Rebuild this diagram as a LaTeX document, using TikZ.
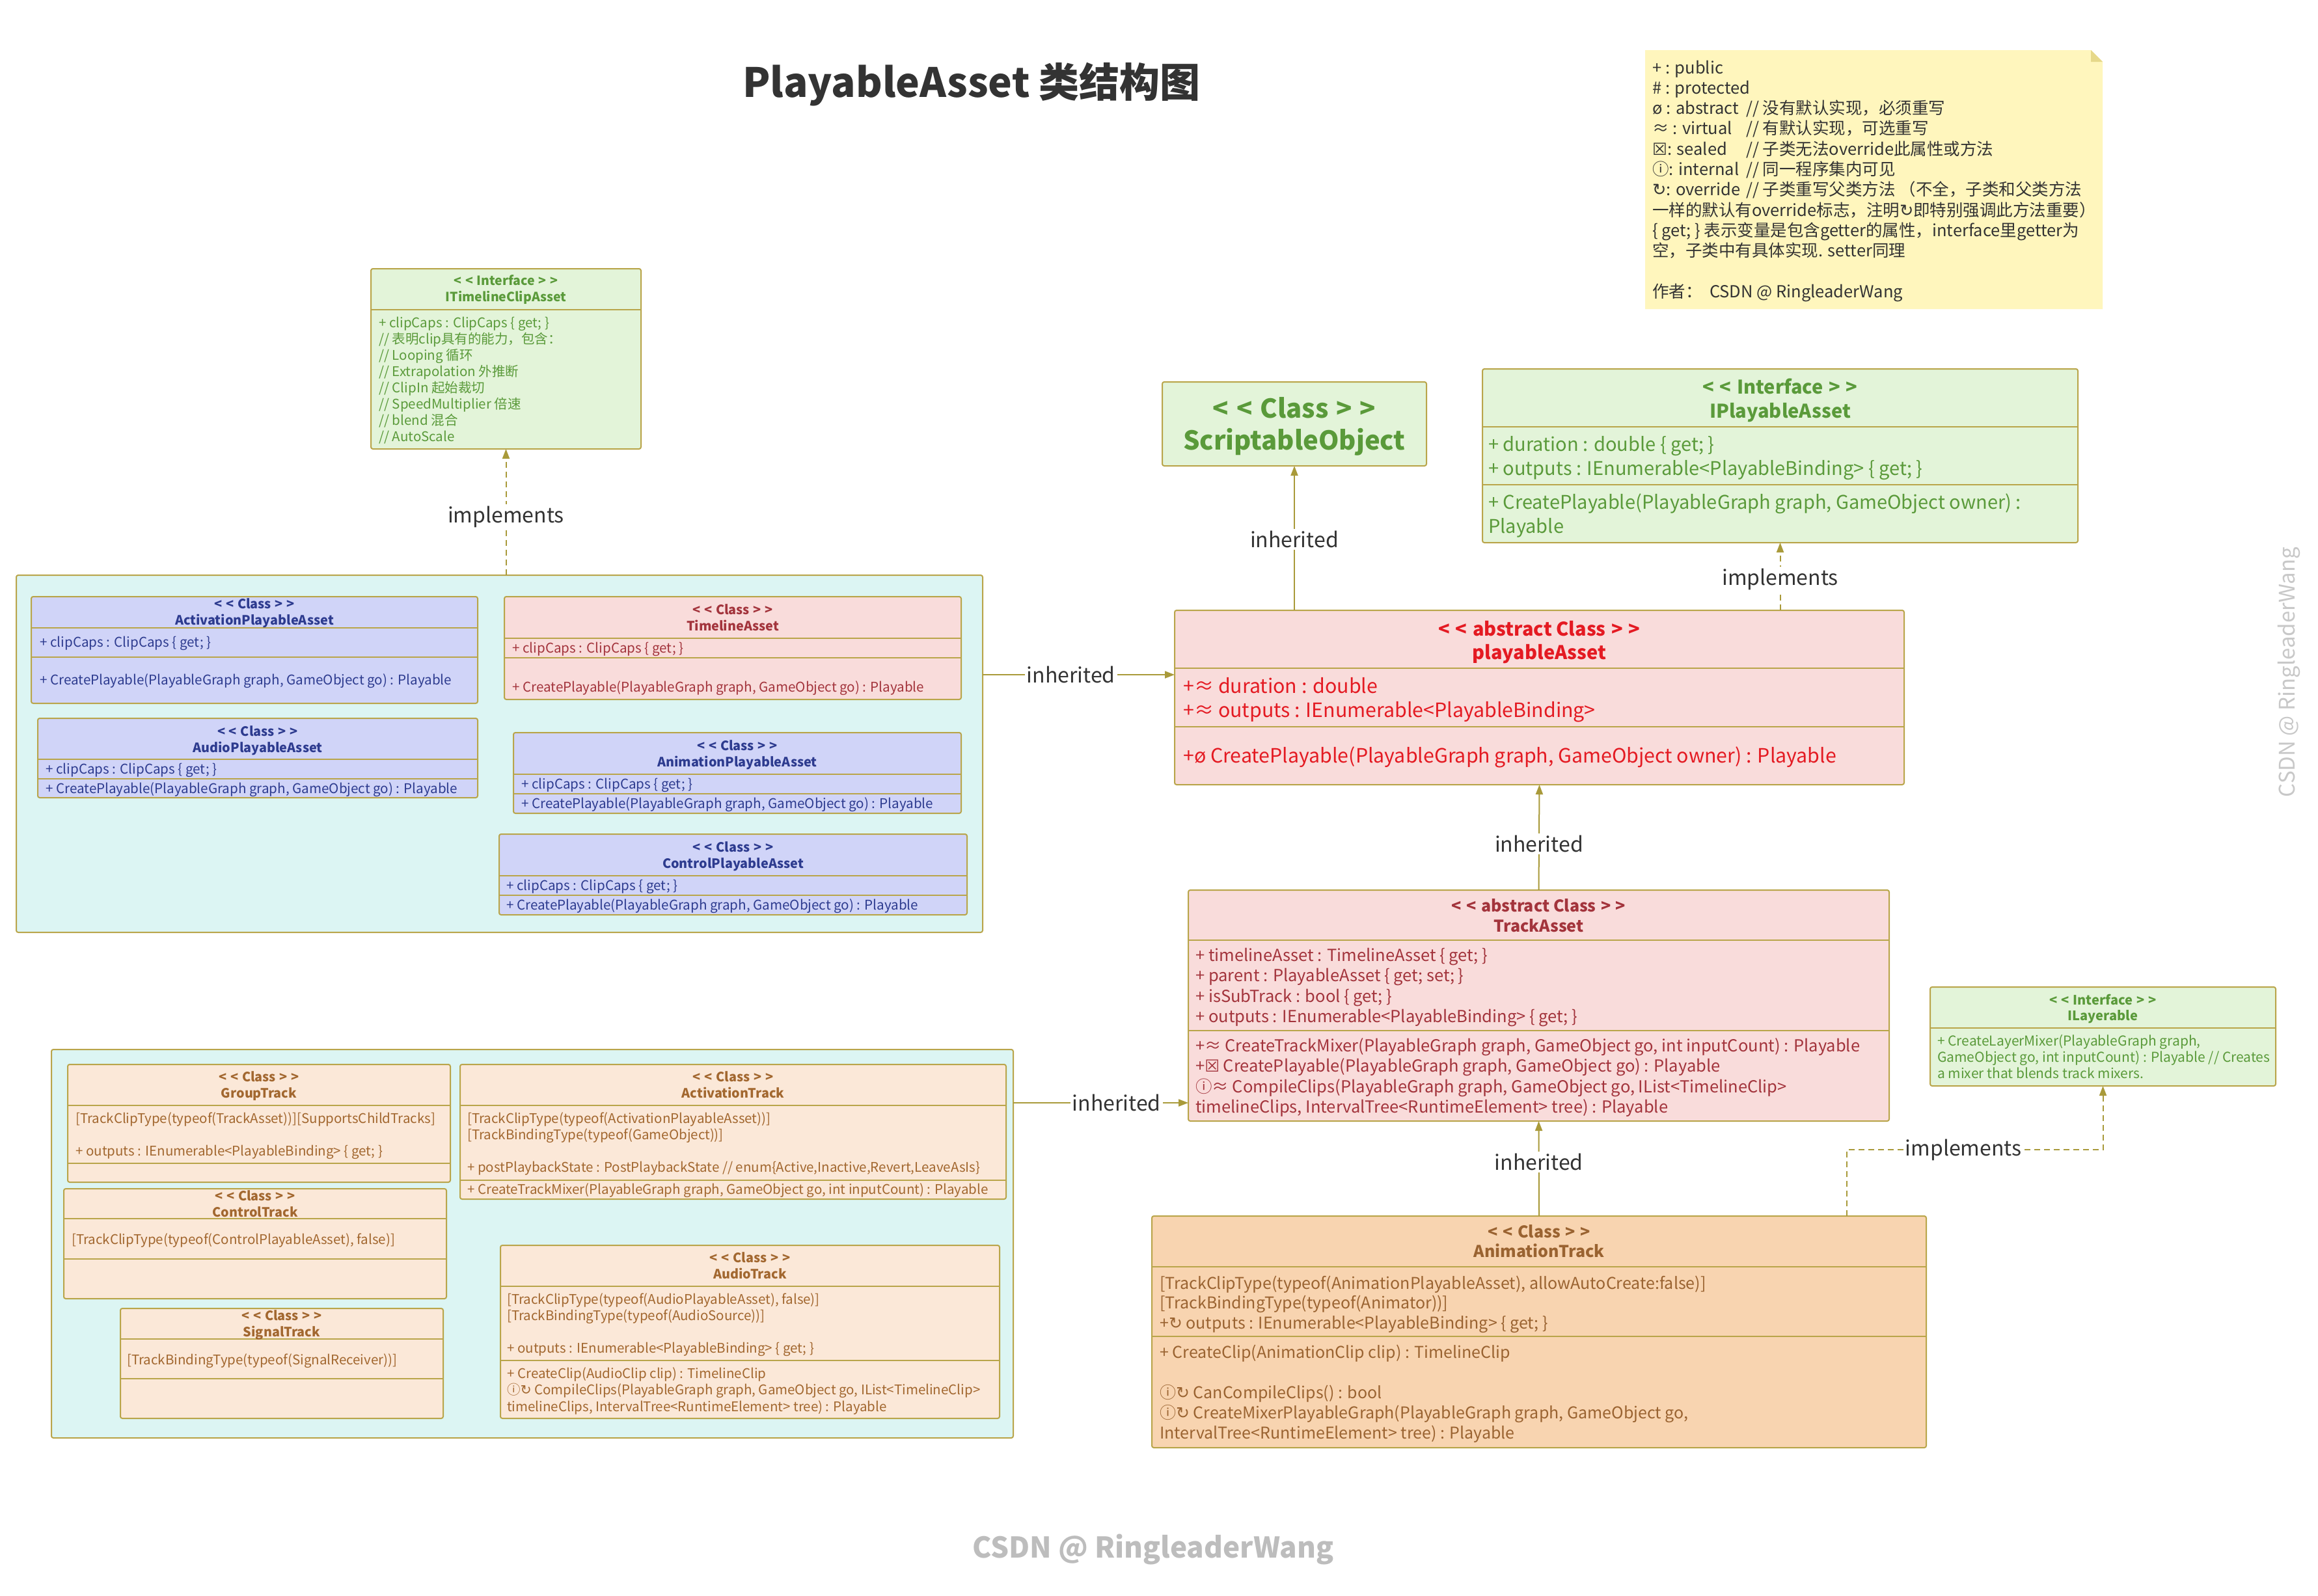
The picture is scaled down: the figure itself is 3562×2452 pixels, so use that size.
\documentclass[tikz,border=0pt]{standalone}
\usepackage{fontspec}
\setmainfont{Noto Sans CJK SC}
\newfontfamily\symf{DejaVu Sans}
\newfontfamily\cjkf{Noto Sans CJK SC}
\usetikzlibrary{arrows.meta}
\definecolor{olv}{HTML}{B9A54A}
\definecolor{arr}{HTML}{A99A3A}
\definecolor{dk}{HTML}{333333}
\definecolor{gfill}{HTML}{E3F4D9}
\definecolor{gtx}{HTML}{5A9A3A}
\definecolor{bfill}{HTML}{D0D4F8}
\definecolor{btx}{HTML}{2D3B8F}
\definecolor{pfill}{HTML}{F9DCDB}
\definecolor{ptx}{HTML}{A3343C}
\definecolor{rtx}{HTML}{E41A22}
\definecolor{ofill}{HTML}{FBE8D8}
\definecolor{otx}{HTML}{A2672F}
\definecolor{afill}{HTML}{F8D4B0}
\definecolor{atx}{HTML}{9A6331}
\definecolor{cfill}{HTML}{DCF5F3}
\definecolor{yfill}{HTML}{FFF6BD}
\definecolor{yfold}{HTML}{E6D88A}
\definecolor{wma}{HTML}{BDBDBD}
\definecolor{wmb}{HTML}{C8C8C8}
\newcommand\fs[2]{\fontsize{#1}{#2}\selectfont}
\newcommand\ml[1]{\vtop{\halign{##\hfil\cr#1\crcr}}}
\newcommand\mlc[1]{\vtop{\halign{\hfil##\hfil\cr#1\crcr}}}
\newcommand\symov{{\symf ↻}}
\newcommand\symse{{\symf ☒}}
\newcommand\symin{{\cjkf ⓘ}}
\newcommand\stereoL{<\hspace{.3em}<\hspace{.3em}}
\newcommand\stereoR{\hspace{.3em}>\hspace{.3em}>}
\newcommand\ubox[6]{\node[ubox,fill=#2,minimum width={#5-#3},minimum height={#6-#4}] (#1) at ({(#3+#5)/2},{(#4+#6)/2}) {};}
\newcommand\usep[2]{\draw[sepl] (#1.west |- 0,#2) -- (#1.east |- 0,#2);}
\begin{document}
\begin{tikzpicture}[x=1pt,y=-1pt,
  ubox/.style={draw=olv,line width=2pt,rounded corners=3pt,inner sep=0pt,outer sep=0pt},
  sepl/.style={draw=olv,line width=2pt},
  txt/.style={anchor=base west,inner sep=0pt},
  hdr/.style={anchor=base,inner sep=0pt},
  inh/.style={draw=arr,line width=2pt,-{Triangle[width=11pt,length=15pt]}},
  impl/.style={inh,dash pattern=on 9pt off 6pt},
  lbl/.style={fill=white,text=dk,inner sep=3pt,font=\fs{32}{38}}]
\useasboundingbox[fill=white] (0,0) rectangle (3562,2452);

% title
\node[font=\fs{62}{70}\bfseries,text=dk] (title) at (1493,130) {PlayableAsset 类结构图};

% legend note
\fill[yfill] (2528,77) -- (3213,77) -- (3231,95) -- (3231,475) -- (2528,475) -- cycle;
\fill[yfold] (3213,77) -- (3213,95) -- (3231,95) -- cycle;
\node[txt,text=dk,font=\fs{25.5}{31.3}] (lg1) at (2539,113) {\ml{+ : public\cr \# : protected\cr ø : abstract\cr ≈ : virtual\cr \symse: sealed\cr \symin : internal\cr \symov : override\cr 一样的默认有override标志，注明\symov 即特别强调此方法重要）\cr \{ get; \} 表示变量是包含getter的属性，interface里getter为\cr 空，子类中有具体实现. setter同理\cr \cr 作者：\ \ CSDN @ RingleaderWang}};
\node[txt,text=dk,font=\fs{25.5}{31.3}] (lg2) at (2683,175.6) {\ml{// 没有默认实现，必须重写\cr // 有默认实现，可选重写\cr // 子类无法override此属性或方法\cr // 同一程序集内可见\cr // 子类重写父类方法 （不全，子类和父类方法}};

% clusters
\ubox{cl1}{cfill}{25}{884}{1510}{1433}
\ubox{cl2}{cfill}{79}{1613}{1557}{2210}

% ITimelineClipAsset
\ubox{itca}{gfill}{570}{413}{985}{690}
\usep{itca}{476}
\node[hdr,text=gtx,font=\fs{19.5}{25}\bfseries] (itca-h) at (itca.center |- 0,438) {\mlc{\stereoL Interface\stereoR\cr ITimelineClipAsset}};
\node[txt,text=gtx,font=\fs{20.5}{25}] (itca-b) at (582,503) {\ml{+ clipCaps : ClipCaps \{ get; \}\cr // 表明clip具有的能力，包含：\cr // Looping 循环\cr // Extrapolation 外推断\cr // ClipIn 起始裁切\cr // SpeedMultiplier 倍速\cr // blend 混合\cr // AutoScale}};

% ActivationPlayableAsset
\ubox{apa}{bfill}{48}{917}{734}{1081}
\usep{apa}{965}\usep{apa}{1010}
\node[hdr,text=btx,font=\fs{19.8}{25}\bfseries] (apa-h) at (apa.center |- 0,935) {\mlc{\stereoL Class\stereoR\cr ActivationPlayableAsset}};
\node[txt,text=btx,font=\fs{20.6}{25}] (apa-a) at (61,994) {+ clipCaps : ClipCaps \{ get; \}};
\node[txt,text=btx,font=\fs{20.6}{25}] (apa-m) at (61,1052) {+ CreatePlayable(PlayableGraph graph, GameObject go) : Playable};

% AudioPlayableAsset
\ubox{aupa}{bfill}{58}{1104}{734}{1226}
\usep{aupa}{1167}\usep{aupa}{1197}
\node[hdr,text=btx,font=\fs{19.8}{25}\bfseries] (aupa-h) at (aupa.center |- 0,1131) {\mlc{\stereoL Class\stereoR\cr AudioPlayableAsset}};
\node[txt,text=btx,font=\fs{20.6}{25}] (aupa-a) at (70,1189) {+ clipCaps : ClipCaps \{ get; \}};
\node[txt,text=btx,font=\fs{20.6}{25}] (aupa-m) at (70,1219) {+ CreatePlayable(PlayableGraph graph, GameObject go) : Playable};

% TimelineAsset
\ubox{tla}{pfill}{775}{917}{1477}{1075}
\usep{tla}{981}\usep{tla}{1011}
\node[hdr,text=ptx,font=\fs{19.8}{25}\bfseries] (tla-h) at (tla.center |- 0,944) {\mlc{\stereoL Class\stereoR\cr TimelineAsset}};
\node[txt,text=ptx,font=\fs{20.6}{25}] (tla-a) at (787,1003) {+ clipCaps : ClipCaps \{ get; \}};
\node[txt,text=ptx,font=\fs{20.6}{25}] (tla-m) at (787,1063) {+ CreatePlayable(PlayableGraph graph, GameObject go) : Playable};

% AnimationPlayableAsset
\ubox{anpa}{bfill}{789}{1126}{1477}{1250}
\usep{anpa}{1190}\usep{anpa}{1220}
\node[hdr,text=btx,font=\fs{19.8}{25}\bfseries] (anpa-h) at (anpa.center |- 0,1153) {\mlc{\stereoL Class\stereoR\cr AnimationPlayableAsset}};
\node[txt,text=btx,font=\fs{20.6}{25}] (anpa-a) at (801,1212) {+ clipCaps : ClipCaps \{ get; \}};
\node[txt,text=btx,font=\fs{20.6}{25}] (anpa-m) at (801,1242) {+ CreatePlayable(PlayableGraph graph, GameObject go) : Playable};

% ControlPlayableAsset
\ubox{cpa}{bfill}{767}{1282}{1486}{1406}
\usep{cpa}{1346}\usep{cpa}{1376}
\node[hdr,text=btx,font=\fs{19.8}{25}\bfseries] (cpa-h) at (cpa.center |- 0,1309) {\mlc{\stereoL Class\stereoR\cr ControlPlayableAsset}};
\node[txt,text=btx,font=\fs{20.6}{25}] (cpa-a) at (778,1368) {+ clipCaps : ClipCaps \{ get; \}};
\node[txt,text=btx,font=\fs{20.6}{25}] (cpa-m) at (778,1398) {+ CreatePlayable(PlayableGraph graph, GameObject go) : Playable};

% ScriptableObject
\ubox{so}{gfill}{1786}{587}{2192}{716}
\node[hdr,text=gtx,font=\fs{40}{49}\bfseries] (so-h) at (so.center |- 0,642) {\mlc{\stereoL Class\stereoR\cr ScriptableObject}};

% IPlayableAsset
\ubox{ipa}{gfill}{2278}{567}{3193}{834}
\usep{ipa}{656}\usep{ipa}{745}
\node[hdr,text=gtx,font=\fs{29}{37}\bfseries] (ipa-h) at (ipa.center |- 0,605) {\mlc{\stereoL Interface\stereoR\cr IPlayableAsset}};
\node[txt,text=gtx,font=\fs{29}{37}] (ipa-a) at (2287,693) {\ml{+ duration : double \{ get; \}\cr + outputs : IEnumerable<PlayableBinding> \{ get; \}}};
\node[txt,text=gtx,font=\fs{29}{37}] (ipa-m) at (2287,782) {\ml{+ CreatePlayable(PlayableGraph graph, GameObject owner) :\cr Playable}};

% playableAsset
\ubox{pa}{pfill}{1805}{938}{2926}{1206}
\usep{pa}{1027}\usep{pa}{1117}
\node[hdr,text=rtx,font=\fs{29}{36}\bfseries] (pa-h) at (pa.center |- 0,977) {\mlc{\stereoL abstract Class\stereoR\cr playableAsset}};
\node[txt,text=rtx,font=\fs{30.3}{37}] (pa-a) at (1818,1065) {\ml{+≈ duration : double\cr +≈ outputs : IEnumerable<PlayableBinding>}};
\node[txt,text=rtx,font=\fs{30.3}{37}] (pa-m) at (1818,1172) {+ø CreatePlayable(PlayableGraph graph, GameObject owner) : Playable};

% TrackAsset
\ubox{ta}{pfill}{1826}{1368}{2903}{1723}
\usep{ta}{1445}\usep{ta}{1584}
\node[hdr,text=ptx,font=\fs{25}{31}\bfseries] (ta-h) at (ta.center |- 0,1401) {\mlc{\stereoL abstract Class\stereoR\cr TrackAsset}};
\node[txt,text=ptx,font=\fs{25.5}{31.6}] (ta-a) at (1837,1477) {\ml{+ timelineAsset : TimelineAsset \{ get; \}\cr + parent : PlayableAsset \{ get; set; \}\cr + isSubTrack : bool \{ get; \}\cr + outputs : IEnumerable<PlayableBinding> \{ get; \}}};
\node[txt,text=ptx,font=\fs{25.5}{31.6}] (ta-m) at (1837,1616) {\ml{+≈ CreateTrackMixer(PlayableGraph graph, GameObject go, int inputCount) : Playable\cr +\symse\ CreatePlayable(PlayableGraph graph, GameObject go) : Playable\cr \symin≈ CompileClips(PlayableGraph graph, GameObject go, IList<TimelineClip>\cr timelineClips, IntervalTree<RuntimeElement> tree) : Playable}};

% ILayerable
\ubox{il}{gfill}{2966}{1517}{3497}{1669}
\usep{il}{1580}
\node[hdr,text=gtx,font=\fs{20}{24}\bfseries] (il-h) at (il.center |- 0,1544) {\mlc{\stereoL Interface\stereoR\cr ILayerable}};
\node[txt,text=gtx,font=\fs{21}{25}] (il-b) at (2977,1607) {\ml{+ CreateLayerMixer(PlayableGraph graph,\cr GameObject go, int inputCount) : Playable // Creates\cr a mixer that blends track mixers.}};

% AnimationTrack
\ubox{at}{afill}{1770}{1869}{2960}{2225}
\usep{at}{1947}\usep{at}{2054}
\node[hdr,text=atx,font=\fs{25}{30}\bfseries] (at-h) at (at.center |- 0,1902) {\mlc{\stereoL Class\stereoR\cr AnimationTrack}};
\node[txt,text=atx,font=\fs{25}{30.7}] (at-a) at (1782,1981) {\ml{[TrackClipType(typeof(AnimationPlayableAsset), allowAutoCreate:false)]\cr [TrackBindingType(typeof(Animator))]\cr +\symov\ outputs : IEnumerable<PlayableBinding> \{ get; \}}};
\node[txt,text=atx,font=\fs{25}{31.2}] (at-m) at (1782,2087) {\ml{+ CreateClip(AnimationClip clip) : TimelineClip\cr \cr \symin\symov\ CanCompileClips() : bool\cr \symin\symov\ CreateMixerPlayableGraph(PlayableGraph graph, GameObject go,\cr IntervalTree<RuntimeElement> tree) : Playable}};

% GroupTrack
\ubox{gt}{ofill}{104}{1636}{692}{1817}
\usep{gt}{1699}\usep{gt}{1788}
\node[hdr,text=otx,font=\fs{19.8}{25}\bfseries] (gt-h) at (gt.center |- 0,1662) {\mlc{\stereoL Class\stereoR\cr GroupTrack}};
\node[txt,text=otx,font=\fs{20.5}{25}] (gt-a) at (116,1726) {\ml{[TrackClipType(typeof(TrackAsset))][SupportsChildTracks]\cr \cr + outputs : IEnumerable<PlayableBinding> \{ get; \}}};

% ControlTrack
\ubox{ct}{ofill}{98}{1827}{686}{1996}
\usep{ct}{1873}\usep{ct}{1935}
\node[hdr,text=otx,font=\fs{19.8}{25}\bfseries] (ct-h) at (ct.center |- 0,1845) {\mlc{\stereoL Class\stereoR\cr ControlTrack}};
\node[txt,text=otx,font=\fs{20.5}{25}] (ct-a) at (110,1912) {[TrackClipType(typeof(ControlPlayableAsset), false)]};

% SignalTrack
\ubox{st}{ofill}{185}{2011}{681}{2180}
\usep{st}{2058}\usep{st}{2119}
\node[hdr,text=otx,font=\fs{19.8}{25}\bfseries] (st-h) at (st.center |- 0,2029) {\mlc{\stereoL Class\stereoR\cr SignalTrack}};
\node[txt,text=otx,font=\fs{20.5}{25}] (st-a) at (195,2097) {[TrackBindingType(typeof(SignalReceiver))]};

% ActivationTrack
\ubox{act}{ofill}{707}{1636}{1546}{1843}
\usep{act}{1699}\usep{act}{1814}
\node[hdr,text=otx,font=\fs{19.8}{25}\bfseries] (act-h) at (act.center |- 0,1662) {\mlc{\stereoL Class\stereoR\cr ActivationTrack}};
\node[txt,text=otx,font=\fs{20.5}{25}] (act-a) at (718,1726) {\ml{[TrackClipType(typeof(ActivationPlayableAsset))]\cr [TrackBindingType(typeof(GameObject))]\cr \cr + postPlaybackState : PostPlaybackState // enum\{Active,Inactive,Revert,LeaveAsIs\}}};
\node[txt,text=otx,font=\fs{20.5}{25}] (act-m) at (718,1835) {+ CreateTrackMixer(PlayableGraph graph, GameObject go, int inputCount) : Playable};

% AudioTrack
\ubox{aut}{ofill}{769}{1914}{1536}{2180}
\usep{aut}{1977}\usep{aut}{2091}
\node[hdr,text=otx,font=\fs{19.8}{25}\bfseries] (aut-h) at (aut.center |- 0,1940) {\mlc{\stereoL Class\stereoR\cr AudioTrack}};
\node[txt,text=otx,font=\fs{20.5}{25}] (aut-a) at (779,2004) {\ml{[TrackClipType(typeof(AudioPlayableAsset), false)]\cr [TrackBindingType(typeof(AudioSource))]\cr \cr + outputs : IEnumerable<PlayableBinding> \{ get; \}}};
\node[txt,text=otx,font=\fs{20.5}{25.5}] (aut-m) at (779,2118) {\ml{+ CreateClip(AudioClip clip) : TimelineClip\cr \symin\symov\ CompileClips(PlayableGraph graph, GameObject go, IList<TimelineClip>\cr timelineClips, IntervalTree<RuntimeElement> tree) : Playable}};

% connectors
\draw[impl] (itca.south |- cl1.north) -- node[lbl,pos=0.46] (l1) {implements} (itca.south);
\draw[inh] (so.south |- pa.north) -- node[lbl,pos=0.49] (l2) {inherited} (so.south);
\draw[impl] (ipa.south |- pa.north) -- node[lbl,pos=0.46] (l3) {implements} (ipa.south);
\coordinate (k1) at (cl1.east |- 0,1037);
\draw[inh] (k1) -- node[lbl,pos=0.46] (l4) {inherited} (k1 -| pa.west);
\draw[inh] (ta.north) -- node[lbl,pos=0.44] (l5) {inherited} (pa.south);
\draw[inh] (at.north) -- node[lbl,pos=0.57] (l6) {inherited} (ta.south);
\coordinate (k2) at (cl2.east |- 0,1695);
\draw[inh] (k2) -- node[lbl,pos=0.59] (l7) {inherited} (k2 -| ta.west);
\coordinate (k3) at (2838,1767);
\draw[impl] (k3 |- at.north) -- (k3) -- node[lbl,pos=0.455] (l8) {implements} (k3 -| il.south) -- (il.south);

% watermarks
\node[font=\fs{44}{50}\bfseries,text=wma] (wm1) at (1772,2381) {CSDN @ RingleaderWang};
\node[font=\fs{33}{40},text=wmb,rotate=90] (wm2) at (3517,1033) {CSDN @ RingleaderWang};
\end{tikzpicture}
\end{document}
